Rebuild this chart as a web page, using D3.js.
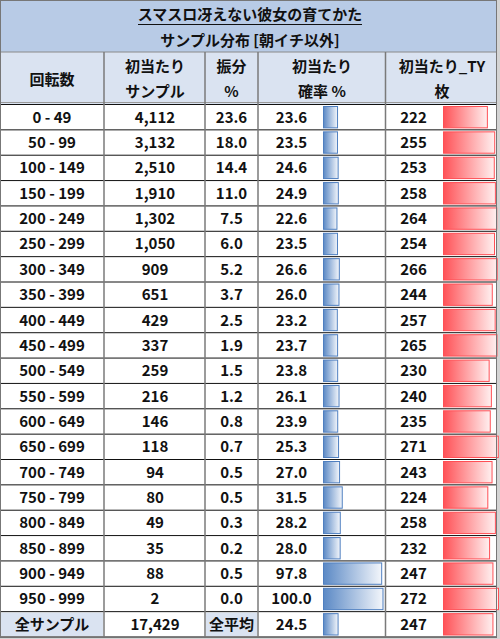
<!DOCTYPE html>
<html>
<head>
<meta charset="utf-8">
<script src="https://cdn.jsdelivr.net/npm/d3@7/dist/d3.min.js"></script>
<style>
	body { margin: 0; background: #d4d4d4; }
	svg { display: block; }
	text { font-family: "Noto Sans CJK JP", "Noto Sans", sans-serif; fill: #111; }
</style>
</head>
<body>
<svg id="chart" width="500" height="639"></svg>
<script>
var title = 'スマスロ冴えない彼女の育てかた';
var subtitle = 'サンプル分布 [朝イチ以外]';
var headers = [['回転数'], ['初当たり', 'サンプル'], ['振分', '%'], ['初当たり', '確率 %'], ['初当たり_TY', '枚']];

var ranges = ['0 - 49', '50 - 99', '100 - 149', '150 - 199', '200 - 249', '250 - 299', '300 - 349',
	'350 - 399', '400 - 449', '450 - 499', '500 - 549', '550 - 599', '600 - 649', '650 - 699',
	'700 - 749', '750 - 799', '800 - 849', '850 - 899', '900 - 949', '950 - 999'];
var samples = [4112, 3132, 2510, 1910, 1302, 1050, 909, 651, 429, 337, 259, 216, 146, 118, 94, 80, 49, 35, 88, 2];
var shares = [23.6, 18.0, 14.4, 11.0, 7.5, 6.0, 5.2, 3.7, 2.5, 1.9, 1.5, 1.2, 0.8, 0.7, 0.5, 0.5, 0.3, 0.2, 0.5, 0.0];
var rates = [23.6, 23.5, 24.6, 24.9, 22.6, 23.5, 26.6, 26.0, 23.2, 23.7, 23.8, 26.1, 23.9, 25.3, 27.0, 31.5, 28.2, 28.0, 97.8, 100.0];
var tyCoins = [222, 255, 253, 258, 264, 254, 266, 244, 257, 265, 230, 240, 235, 271, 243, 224, 258, 232, 247, 272];

var totalLabel = '全サンプル';
var totalSamples = 17429;
var avgLabel = '全平均';
var avgRate = 24.5;
var avgTy = 247;

//layout
var W = 497, tableTop = 104.5, tableBottom = 637;
var colEdges = [0, 104, 205, 258, 385.5, W];
var svg = d3.select('#chart');

//rows: 20 ranges + total row
var rows = ranges.map(function(r, i) {
	return {label: r, sample: samples[i], share: shares[i], rate: rates[i], ty: tyCoins[i], total: false};
});
rows.push({label: totalLabel, sample: totalSamples, share: avgLabel, rate: avgRate, ty: avgTy, total: true});

var y = d3.scaleBand()
	.domain(d3.range(rows.length))
	.range([tableTop, tableBottom]);

var rateBar = d3.scaleLinear().domain([0, 100]).range([0, 59.5]);
var tyBar = d3.scaleLinear().domain([25, 272]).range([0, 55]);

//gradients for data bars
var defs = svg.append('defs');
function grad(id, c1, c2) {
	var g = defs.append('linearGradient').attr('id', id);
	g.append('stop').attr('offset', '0%').attr('stop-color', c1);
	g.append('stop').attr('offset', '100%').attr('stop-color', c2);
}
grad('blueGrad', '#5b89c5', '#f3f6fb');
grad('redGrad', '#ff5257', '#fff0f0');

//title band
svg.append('rect').attr('x', 0).attr('y', 0).attr('width', W).attr('height', 52).style('fill', '#b8cbe6');
svg.append('rect').attr('x', 0).attr('y', 52).attr('width', W).attr('height', tableTop - 52).style('fill', '#dae3f1');
svg.append('rect').attr('x', 0).attr('y', tableTop).attr('width', W).attr('height', tableBottom - tableTop).style('fill', '#fff');

var t = svg.append('text').attr('x', 250).attr('y', 20).attr('text-anchor', 'middle')
	.style('font-size', '15px').style('font-weight', 'bold').text(title);
svg.append('line').attr('x1', 138).attr('x2', 362).attr('y1', 24.5).attr('y2', 24.5)
	.style('stroke', '#111').style('stroke-width', 1);
svg.append('text').attr('x', 250).attr('y', 46).attr('text-anchor', 'middle')
	.style('font-size', '15px').style('font-weight', 'bold').text(subtitle);

//header cells
var headerCenters = [52, 155, 231.5, 322, 442];
headers.forEach(function(h, i) {
	if (h.length == 1) {
		svg.append('text').attr('x', headerCenters[i]).attr('y', 85).attr('text-anchor', 'middle')
			.style('font-size', '15px').style('font-weight', 'bold').text(h[0]);
	} else {
		h.forEach(function(s, j) {
			svg.append('text').attr('x', headerCenters[i]).attr('y', 72 + j * 25).attr('text-anchor', 'middle')
				.style('font-size', '15px').style('font-weight', 'bold').text(s);
		});
	}
});

//body rows
var row = svg.selectAll('.row').data(rows).enter().append('g')
	.attr('class', 'row')
	.attr('transform', function(d, i) { return 'translate(0,' + y(i) + ')'; });

var rh = y.bandwidth();

//blue-ish label cells in total row
row.filter(function(d) { return d.total; }).each(function() {
	var g = d3.select(this);
	g.append('rect').attr('x', colEdges[0] + 1).attr('y', 1).attr('width', colEdges[1] - colEdges[0] - 2).attr('height', rh - 2).style('fill', '#dae3f1');
	g.append('rect').attr('x', colEdges[2] + 1).attr('y', 1).attr('width', colEdges[3] - colEdges[2] - 2).attr('height', rh - 2).style('fill', '#dae3f1');
});

//data bars
row.append('rect')
	.attr('x', 323.5)
	.attr('y', 2)
	.attr('width', function(d) { return rateBar(d.rate); })
	.attr('height', rh - 4)
	.style('fill', 'url(#blueGrad)')
	.style('stroke', '#4f7fc0')
	.style('stroke-width', 1);

row.append('rect')
	.attr('x', 443.5)
	.attr('y', 2)
	.attr('width', function(d) { return tyBar(d.ty); })
	.attr('height', rh - 4)
	.style('fill', 'url(#redGrad)')
	.style('stroke', '#ff4f55')
	.style('stroke-width', 1);

var fmt = d3.format(',');
var cells = [
	{x: 52, f: function(d) { return d.label; }},
	{x: 155, f: function(d) { return fmt(d.sample); }},
	{x: 231.5, f: function(d) { return d.total ? d.share : d.share.toFixed(1); }},
	{x: 291.5, f: function(d) { return d.rate.toFixed(1); }},
	{x: 413.5, f: function(d) { return d.ty; }}
];
cells.forEach(function(c) {
	row.append('text')
		.attr('x', c.x)
		.attr('y', rh / 2 + 5.5)
		.attr('text-anchor', 'middle')
		.style('font-size', '15px')
		.style('font-weight', 'bold')
		.text(c.f);
});

//grid lines
var hLines = d3.range(rows.length + 1).map(function(i) { return i < rows.length ? y(i) : tableBottom; });
svg.selectAll('.hline').data(hLines).enter().append('line')
	.attr('x1', 0).attr('x2', W)
	.attr('y1', function(d) { return d; }).attr('y2', function(d) { return d; })
	.style('stroke', '#111').style('stroke-width', 1);

svg.append('line').attr('x1', 0).attr('x2', W).attr('y1', 52).attr('y2', 52)
	.style('stroke', '#8a8a8a').style('stroke-width', 1);
svg.append('line').attr('x1', 0).attr('x2', W).attr('y1', tableTop - 2).attr('y2', tableTop - 2)
	.style('stroke', '#999').style('stroke-width', 1);

svg.selectAll('.vline').data(colEdges.slice(1, -1)).enter().append('line')
	.attr('x1', function(d) { return d; }).attr('x2', function(d) { return d; })
	.attr('y1', 52).attr('y2', tableBottom)
	.style('stroke', '#7a7a7a').style('stroke-width', 1.5);

//outer frame
svg.append('rect').attr('x', 0.5).attr('y', 0.5).attr('width', W - 1).attr('height', tableBottom - 0.5)
	.style('fill', 'none').style('stroke', '#777').style('stroke-width', 1);
</script>
</body>
</html>
